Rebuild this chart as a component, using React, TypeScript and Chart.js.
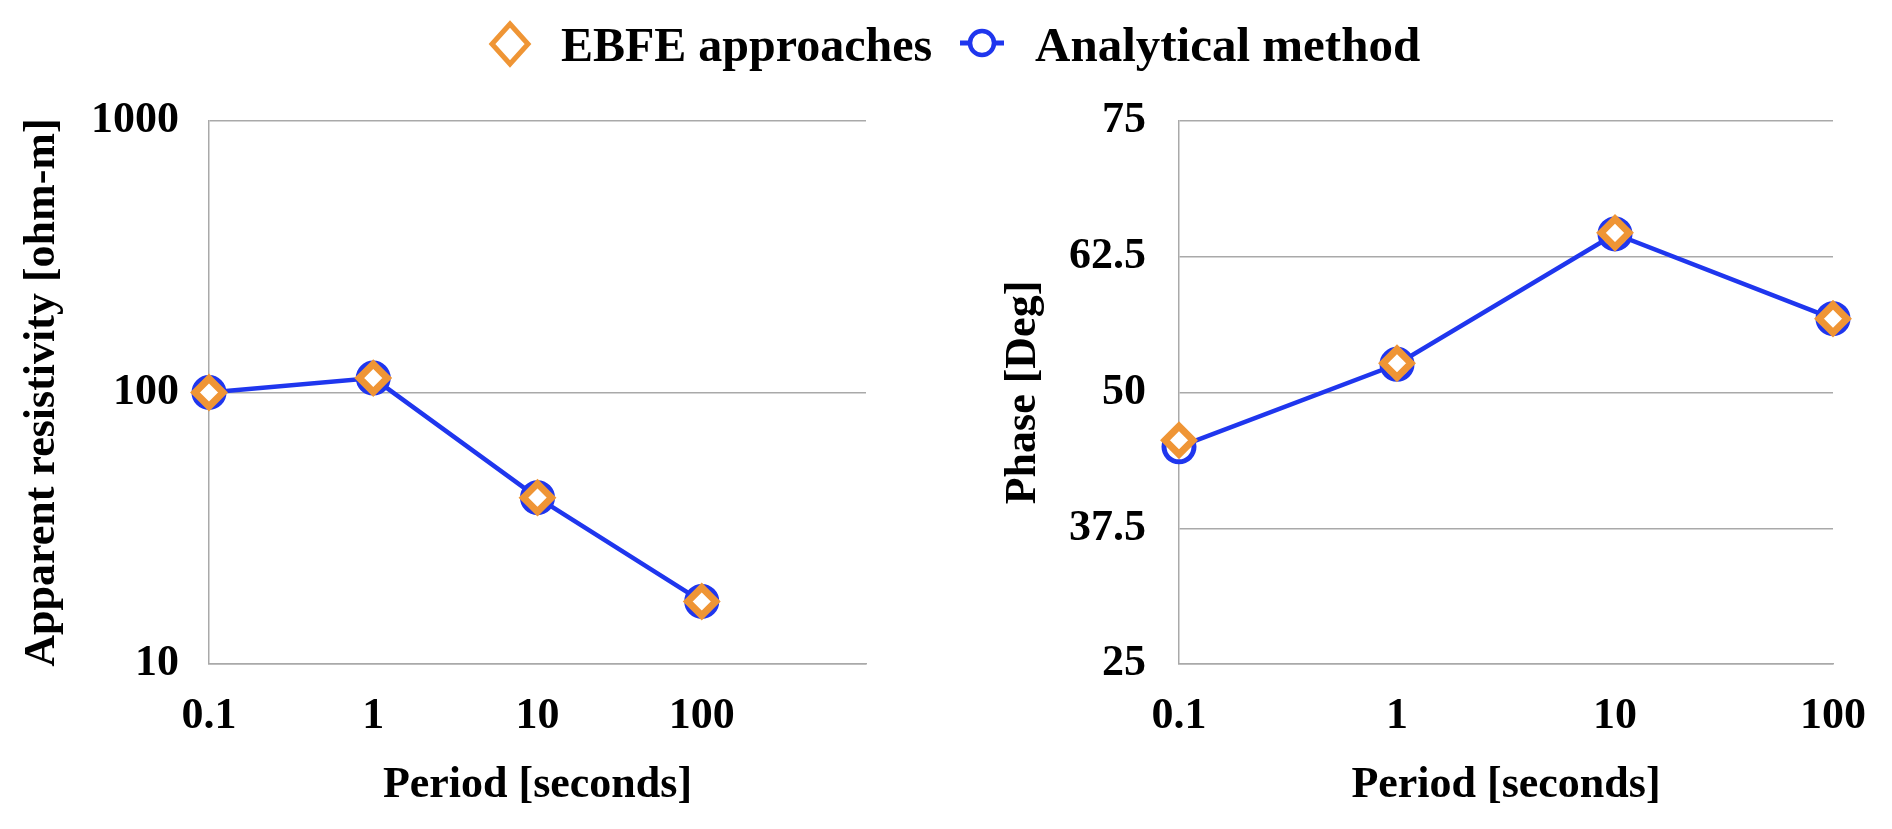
import React, { useEffect, useRef } from 'react';
import { Chart, registerables } from 'chart.js';

Chart.register(...registerables);

// ---- data ----
const periodLabelsLeft = ['0.1', '1', '10', '100', ''];
const periodLabelsRight = ['0.1', '1', '10', '100'];
const resistivityEBFE = [100, 113, 41, 17];
const resistivityAnalytical = [100, 113, 41, 17];
const phaseEBFE = [45.6, 52.7, 64.7, 56.8];
const phaseAnalytical = [45.0, 52.6, 64.6, 56.8];
const resistivityTicks = [10, 100, 1000];
const phaseTicks = [25, 37.5, 50, 62.5, 75];
const seriesNames = ['EBFE approaches', 'Analytical method'];

const ORANGE = '#ef9535';
const BLUE = '#1f36ee';
const GRID = '#a9a9a9';
const FONT = "'Liberation Serif', 'Times New Roman', serif";

function makeDatasets(ebfe: number[], analytical: number[]) {
  return [
    {
      label: seriesNames[0],
      data: ebfe,
      showLine: false,
      pointStyle: 'rectRot',
      pointRadius: 14,
      pointHoverRadius: 14,
      pointBorderWidth: 7,
      pointBorderColor: ORANGE,
      pointBackgroundColor: '#ffffff',
      borderColor: ORANGE,
      backgroundColor: '#ffffff',
      clip: false,
    },
    {
      label: seriesNames[1],
      data: analytical,
      showLine: true,
      tension: 0,
      borderColor: BLUE,
      borderWidth: 4.5,
      pointStyle: 'circle',
      pointRadius: 15,
      pointHoverRadius: 15,
      pointBorderWidth: 5,
      pointBorderColor: BLUE,
      pointBackgroundColor: '#ffffff',
      backgroundColor: '#ffffff',
      clip: false,
    },
  ];
}

function baseOptions(opts: {
  yAxisWidth: number;
  yTitle: string;
  yTitlePad: number;
  yTickPad: number;
  rightPad: number;
  y: any;
}) {
  const tickFont = { family: FONT, size: 44, weight: 'bold' as const };
  return {
    responsive: false,
    animation: false,
    events: [],
    layout: { padding: { top: 121, right: opts.rightPad, bottom: 0, left: 0 } },
    plugins: { legend: { display: false }, title: { display: false }, tooltip: { enabled: false } },
    scales: {
      x: {
        type: 'category',
        offset: false,
        grid: { display: false, drawTicks: false },
        border: { display: true, color: GRID, width: 1.5 },
        ticks: { color: '#000', font: tickFont, padding: 26, maxRotation: 0, autoSkip: false },
        title: {
          display: true,
          text: 'Period [seconds]',
          color: '#000',
          font: tickFont,
          padding: { top: 0, bottom: 17 },
        },
        afterFit: (scale: any) => {
          scale.height = 165;
        },
      },
      y: {
        ...opts.y,
        grid: { display: true, color: GRID, lineWidth: 1.5, drawTicks: false },
        border: { display: true, color: GRID, width: 1.5 },
        ticks: {
          color: '#000',
          font: tickFont,
          padding: opts.yTickPad,
          callback: (v: any) => String(v),
        },
        title: {
          display: true,
          text: opts.yTitle,
          color: '#000',
          font: tickFont,
          padding: { top: opts.yTitlePad, bottom: 0 },
        },
        afterFit: (scale: any) => {
          scale.width = opts.yAxisWidth;
        },
      },
    },
  };
}

function DiamondIcon() {
  return (
    <svg width="50" height="50" viewBox="0 0 50 50" style={{ position: 'absolute', left: 485, top: 19 }}>
      <polygon points="25,5 43,25 25,45 7,25" fill="#fff" stroke={ORANGE} strokeWidth="5" />
    </svg>
  );
}

function CircleIcon() {
  return (
    <svg width="50" height="40" viewBox="0 0 50 40" style={{ position: 'absolute', left: 957, top: 23 }}>
      <line x1="3" y1="20" x2="47" y2="20" stroke={BLUE} strokeWidth="5" />
      <circle cx="25" cy="20" r="12" fill="#fff" stroke={BLUE} strokeWidth="4.5" />
    </svg>
  );
}

export default function App() {
  const leftRef = useRef<HTMLCanvasElement>(null);
  const rightRef = useRef<HTMLCanvasElement>(null);

  useEffect(() => {
    const left = new Chart(leftRef.current as HTMLCanvasElement, {
      type: 'line',
      data: {
        labels: periodLabelsLeft,
        datasets: makeDatasets(resistivityEBFE, resistivityAnalytical) as any,
      },
      options: baseOptions({
        yAxisWidth: 209,
        yTitle: 'Apparent resistivity [ohm-m]',
        yTitlePad: 16,
        yTickPad: 30,
        rightPad: 80,
        y: {
          type: 'logarithmic',
          min: resistivityTicks[0],
          max: resistivityTicks[resistivityTicks.length - 1],
          afterBuildTicks: (axis: any) => {
            axis.ticks = resistivityTicks.map((v) => ({ value: v }));
          },
        },
      }) as any,
    });

    const right = new Chart(rightRef.current as HTMLCanvasElement, {
      type: 'line',
      data: {
        labels: periodLabelsRight,
        datasets: makeDatasets(phaseEBFE, phaseAnalytical) as any,
      },
      options: baseOptions({
        yAxisWidth: 233,
        yTitle: 'Phase [Deg]',
        yTitlePad: 51,
        yTickPad: 33,
        rightPad: 56,
        y: {
          type: 'linear',
          min: phaseTicks[0],
          max: phaseTicks[phaseTicks.length - 1],
          afterBuildTicks: (axis: any) => {
            axis.ticks = phaseTicks.map((v) => ({ value: v }));
          },
        },
      }) as any,
    });

    return () => {
      left.destroy();
      right.destroy();
    };
  }, []);

  const legendText: React.CSSProperties = {
    position: 'absolute',
    top: 21,
    fontFamily: FONT,
    fontWeight: 'bold',
    fontSize: 48,
    lineHeight: '48px',
    whiteSpace: 'nowrap',
    color: '#000',
  };

  return (
    <div style={{ position: 'absolute', left: 0, top: 0, width: 1892, height: 829, background: '#fff', overflow: 'hidden' }}>
      <canvas ref={leftRef} width={946} height={829} style={{ position: 'absolute', left: 0, top: 0, width: 946, height: 829 }} />
      <canvas ref={rightRef} width={946} height={829} style={{ position: 'absolute', left: 946, top: 0, width: 946, height: 829 }} />
      <DiamondIcon />
      <span style={{ ...legendText, left: 561 }}>{seriesNames[0]}</span>
      <CircleIcon />
      <span style={{ ...legendText, left: 1035, fontSize: 49 }}>{seriesNames[1]}</span>
    </div>
  );
}
